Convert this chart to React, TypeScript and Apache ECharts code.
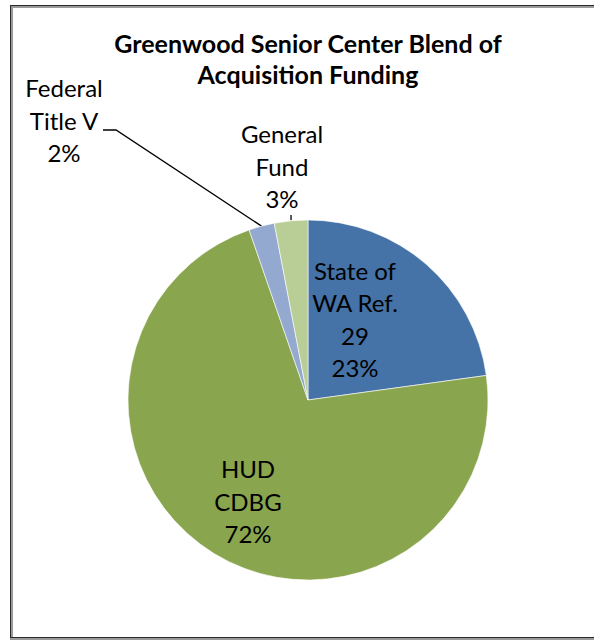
import React, { useEffect, useRef } from "react";
import * as echarts from "echarts";

const titleText = "Greenwood Senior Center Blend of\nAcquisition Funding";
const categories = ["State of\nWA Ref.\n29", "HUD\nCDBG", "Federal\nTitle V", "General\nFund"];
const values = [22.8, 71.8, 2.3, 3.0];
const colors = ["#4572A7", "#89A54E", "#93A9CF", "#B9CD96"];

// label block centres (layout only)
const labelPos: Record<number, [number, number]> = {
  0: [355, 319],
  1: [248, 501],
  2: [64, 120],
  3: [282, 166],
};

export default function App() {
  const ref = useRef<HTMLDivElement>(null);
  useEffect(() => {
    if (!ref.current) return;
    const chart = echarts.init(ref.current, null, { renderer: "svg" });
    const total = values.reduce((a, b) => a + b, 0);
    chart.setOption({
      animation: false,
      backgroundColor: "#ffffff",
      graphic: [
        {
          type: "text",
          x: 308,
          y: 27,
          style: {
            text: titleText,
            align: "center",
            verticalAlign: "top",
            fontFamily: "Lato",
            fontWeight: "bold",
            fontSize: 25,
            lineHeight: 31.5,
            fill: "#000",
          },
        },
      ],
      series: [
        {
          type: "pie",
          center: [308, 400],
          radius: [0, 180],
          startAngle: 90,
          clockwise: true,
          avoidLabelOverlap: false,
          data: categories.map((c, i) => ({
            name: c,
            value: values[i],
            itemStyle: { color: colors[i] },
            labelLine: { show: i >= 2 },
          })),
          itemStyle: { borderColor: "#ffffff", borderWidth: 0.6 },
          label: {
            show: true,
            position: "outside",
            formatter: (p: any) => `${p.name}\n${Math.round((p.value / total) * 100)}%`,
            fontFamily: "Lato",
            fontSize: 24,
            lineHeight: 32.5,
            color: "#000",
            align: "center",
            verticalAlign: "middle",
          },
          labelLine: {
            show: true,
            lineStyle: { color: "#000", width: 1.3 },
          },
          labelLayout: (params: any) => {
            const i = params.dataIndex;
            const [x, y] = labelPos[i];
            const out: any = { x, y, align: "center", verticalAlign: "middle" };
            const pts = params.labelLinePoints;
            if (pts && pts.length) {
              const s = pts[0];
              if (i === 2) {
                out.labelLinePoints = [s, [116, 130], [103, 130]];
              } else if (i === 3) {
                out.labelLinePoints = [[s[0], s[1] - 0.5], [s[0], 215], [s[0], 215]];
              }
            }
            return out;
          },
        },
      ],
    });
    return () => chart.dispose();
  }, []);

  return (
    <div style={{ position: "fixed", left: 0, top: 0, width: 594, height: 641, overflow: "hidden", background: "#fff" }}>
      <div ref={ref} style={{ position: "absolute", left: 0, top: 0, width: 594, height: 641 }} />
      <div
        style={{
          position: "absolute",
          left: 10,
          top: 5,
          width: 700,
          height: 633,
          boxSizing: "border-box",
          borderLeft: "1px solid #2a2a2a",
          borderTop: "1px solid #2a2a2a",
          borderBottom: "1px solid #2a2a2a",
          boxShadow: "inset 2px 2px 0 #9a9a9a, 0 2px 0 #9a9a9a",
          pointerEvents: "none",
        }}
      />
    </div>
  );
}
